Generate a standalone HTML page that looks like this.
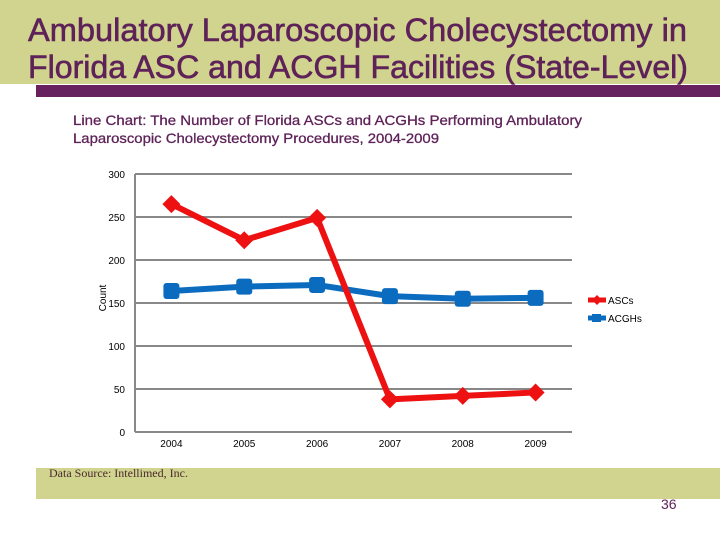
<!DOCTYPE html>
<html><head><meta charset="utf-8"><style>
body{margin:0;width:720px;height:540px;background:#fff;position:relative;overflow:hidden;font-family:"Liberation Sans",sans-serif}
.abs{position:absolute}
</style></head><body>
<div class="abs" style="left:0;top:0;width:720px;height:84px;background:#d0d48f"></div>
<div class="abs" style="left:36px;top:85px;width:684px;height:12px;background:#67215f"></div>
<div class="abs" style="left:36px;top:468px;width:684px;height:31px;background:#d0d48f"></div>
<div class="abs" style="left:49px;top:466px;font-family:'Liberation Serif',serif;font-size:12px;color:#4a2a30">Data Source: Intellimed, Inc.</div>
<div class="abs" style="left:661px;top:496px;font-size:14px;color:#5e2258">36</div>
<svg class="abs" style="left:0;top:0" width="720" height="540">
<text x="28" y="41" font-size="32" fill="#5e2258" stroke="#5e2258" stroke-width="0.6" textLength="659" lengthAdjust="spacingAndGlyphs">Ambulatory Laparoscopic Cholecystectomy in</text>
<text x="28" y="78" font-size="32" fill="#5e2258" stroke="#5e2258" stroke-width="0.6" textLength="660" lengthAdjust="spacingAndGlyphs">Florida ASC and ACGH Facilities (State-Level)</text>
<text x="73" y="125" font-size="14" fill="#5e2258" stroke="#5e2258" stroke-width="0.3" textLength="509" lengthAdjust="spacingAndGlyphs">Line Chart: The Number of Florida ASCs and ACGHs Performing Ambulatory</text>
<text x="73" y="143" font-size="14" fill="#5e2258" stroke="#5e2258" stroke-width="0.3" textLength="366" lengthAdjust="spacingAndGlyphs">Laparoscopic Cholecystectomy Procedures, 2004-2009</text>
<g id="g"></g>
</svg>
<script>
const years=["2004","2005","2006","2007","2008","2009"];
const ascs=[265,223,249,38,42,46];
const acghs=[164,169,171,158,155,156];
const yTicks=[0,50,100,150,200,250,300];
const NS="http://www.w3.org/2000/svg";
const g=document.getElementById('g');
const x0=135,x1=572,yTop=174,yBot=432,ymax=300;
const step=(x1-x0)/years.length;
const X=i=>x0+step*(i+0.5);
const Y=v=>yBot-(v/ymax)*(yBot-yTop);
function mk(t,a,txt){const e=document.createElementNS(NS,t);for(const k in a)e.setAttribute(k,a[k]);if(txt!=null)e.textContent=txt;g.appendChild(e);return e;}
yTicks.forEach(v=>{
 const l=mk('line',{x1:x0,x2:x1,y1:Y(v),y2:Y(v),stroke:'#888','stroke-width':2});
 
 
 const t=mk('text',{x:x0-10,y:Y(v)+4,'text-anchor':'end','font-size':10,fill:'#000'},v);
 
 
});
const ax=mk('line',{x1:x0,x2:x0,y1:yTop,y2:yBot,stroke:'#888','stroke-width':2});


years.forEach((y,i)=>{
 const t=mk('text',{x:X(i),y:yBot+15,'text-anchor':'middle','font-size':10,fill:'#000'},y);
 
 
});
const yt=mk('text',{x:106,y:298,'text-anchor':'middle','font-size':10,transform:'rotate(-90 106 298)'},'Count');


function series(vals,color,name,diamond){
 const p=mk('polyline',{points:vals.map((v,i)=>X(i)+','+Y(v)).join(' '),fill:'none',stroke:color,'stroke-width':6,'stroke-linejoin':'round'});
 
 
 vals.forEach((v,i)=>{
  let m;
  if(diamond){const cx=X(i),cy=Y(v),r=9;m=mk('polygon',{points:`${cx},${cy-r} ${cx+r},${cy} ${cx},${cy+r} ${cx-r},${cy}`,fill:color});}
  else m=mk('rect',{x:X(i)-8,y:Y(v)-8,width:16,height:16,rx:3,fill:color});
  
  
 });
}
series(acghs,'#0b6cbf','acghs',false);
series(ascs,'#ee1111','ascs',true);
[['ASCs','#ee1111',300,true],['ACGHs','#0b6cbf',318,false]].forEach(([n,c,y,d])=>{
 const l=mk('line',{x1:588,x2:606,y1:y,y2:y,stroke:c,'stroke-width':5});
 
 
 let m=d?mk('polygon',{points:`597,${y-5} 602,${y} 597,${y+5} 592,${y}`,fill:c}):mk('rect',{x:592,y:y-4,width:9,height:8,fill:c});
 
 
 const t=mk('text',{x:608,y:y+4,'font-size':10},n);
 
 
});
</script>
</body></html>
